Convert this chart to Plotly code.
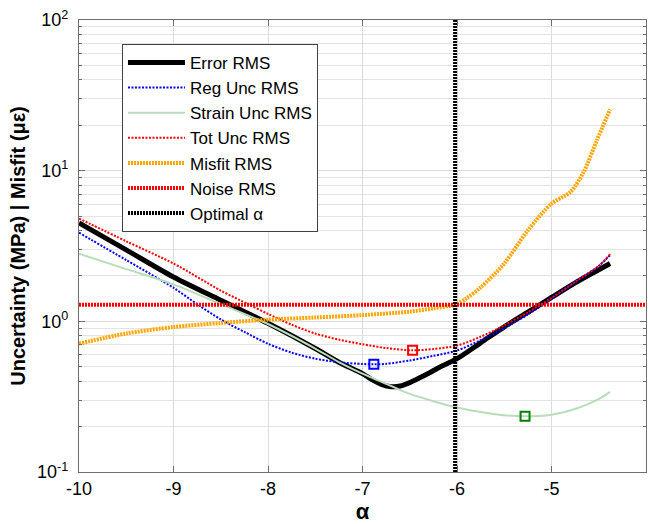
import plotly.graph_objects as go

# Regularisation parameter (log10 alpha) sample points for each curve
x_err = [-10, -9.5, -9, -8.5, -8, -7.5, -7.25, -7, -6.9, -6.8, -6.7, -6.6, -6.5, -6.4, -6.3, -6.2, -6.0, -5.75, -5.5, -5.25, -5.0, -4.75, -4.5, -4.38]
y_err = [4.5, 2.98, 1.97, 1.38, 0.97, 0.66, 0.535, 0.45, 0.41, 0.382, 0.368, 0.372, 0.392, 0.42, 0.452, 0.49, 0.565, 0.72, 0.92, 1.15, 1.44, 1.8, 2.2, 2.42]

x_reg = [-10, -9.5, -9, -8.75, -8.5, -8.25, -8, -7.75, -7.5, -7.25, -7, -6.88, -6.75, -6.5, -6.25, -6.0, -5.75, -5.5, -5.25, -5.0, -4.75, -4.5, -4.38]
y_reg = [3.88, 2.55, 1.67, 1.3, 1.03, 0.85, 0.71, 0.62, 0.565, 0.535, 0.521, 0.518, 0.522, 0.55, 0.59, 0.64, 0.75, 0.9, 1.11, 1.41, 1.82, 2.33, 2.75]

x_strain = [-10, -9.5, -9, -8.5, -8, -7.5, -7.25, -7, -6.67, -6.5, -6.25, -6.0, -5.75, -5.5, -5.28, -5.0, -4.75, -4.5, -4.38]
y_strain = [2.81, 2.22, 1.76, 1.3, 0.96, 0.66, 0.537, 0.45, 0.366, 0.33, 0.295, 0.268, 0.25, 0.238, 0.234, 0.24, 0.262, 0.305, 0.34]

x_tot = [-10, -9.5, -9, -8.5, -8.2, -8, -7.75, -7.5, -7.25, -7, -6.75, -6.47, -6.25, -6.0, -5.75, -5.5, -5.25, -5.0, -4.75, -4.5, -4.38]
y_tot = [4.81, 3.4, 2.42, 1.6, 1.29, 1.12, 0.95, 0.83, 0.756, 0.705, 0.665, 0.642, 0.655, 0.69, 0.79, 0.94, 1.15, 1.43, 1.83, 2.33, 2.79]

x_misfit = [-10, -9.5, -9, -8.5, -8, -7.5, -7, -6.5, -6.25, -6.02, -5.9, -5.75, -5.5, -5.25, -5.0, -4.8, -4.66, -4.52, -4.38]
y_misfit = [0.711, 0.83, 0.917, 0.975, 1.026, 1.06, 1.1, 1.16, 1.22, 1.29, 1.42, 1.68, 2.42, 4.02, 6.04, 7.22, 9.8, 15.9, 25.5]

noise_rms = 1.29
alpha_opt = -6.02

# Minima of the uncertainty curves
reg_min = (-6.88, 0.518)
tot_min = (-6.47, 0.642)
strain_min = (-5.28, 0.234)

x_tickvals = [-10, -9, -8, -7, -6, -5, -4]
x_ticktext = ["-10", "-9", "-8", "-7", "-6", "-5", "-4"]
y_tickvals = [0.1, 1, 10, 100]
y_ticktext = ["10<sup>-1</sup>", "10<sup>0</sup>", "10<sup>1</sup>", "10<sup>2</sup>"]
y_minor = [m * 10.0 ** e for e in (-1, 0, 1) for m in range(2, 10)]

FONT = "Arial, Liberation Sans, sans-serif"
thick_dash = "2px,1px"
thin_dash = "2px,1.5px"

fig = go.Figure()

fig.add_trace(go.Scatter(x=x_err, y=y_err, mode="lines", name="Error RMS",
                         line=dict(color="#000000", width=5, shape="spline", smoothing=0.8)))
fig.add_trace(go.Scatter(x=x_reg, y=y_reg, mode="lines", name="Reg Unc RMS",
                         line=dict(color="#0000ff", width=2, dash=thin_dash, shape="spline", smoothing=0.8)))
fig.add_trace(go.Scatter(x=x_strain, y=y_strain, mode="lines", name="Strain Unc RMS",
                         line=dict(color="#b8ddb8", width=2, shape="spline", smoothing=0.8)))
fig.add_trace(go.Scatter(x=x_tot, y=y_tot, mode="lines", name="Tot Unc RMS",
                         line=dict(color="#ff0000", width=2, dash=thin_dash, shape="spline", smoothing=0.8)))
fig.add_trace(go.Scatter(x=x_misfit, y=y_misfit, mode="lines", name="Misfit RMS",
                         line=dict(color="#ffa500", width=4, dash=thick_dash, shape="spline", smoothing=0.8)))
fig.add_trace(go.Scatter(x=[-10, -4], y=[noise_rms, noise_rms], mode="lines", name="Noise RMS",
                         line=dict(color="#ff0000", width=4, dash=thick_dash)))
fig.add_trace(go.Scatter(x=[alpha_opt, alpha_opt], y=[0.1, 100], mode="lines", name="Optimal \u03b1",
                         line=dict(color="#000000", width=4, dash=thick_dash)))

# Square markers at the minimum of each uncertainty curve
for pt, col in ((reg_min, "#0000ff"), (tot_min, "#ff0000"), (strain_min, "#008000")):
    fig.add_trace(go.Scatter(x=[pt[0]], y=[pt[1]], mode="markers", showlegend=False,
                             marker=dict(symbol="square-open", size=9, color=col,
                                         line=dict(color=col, width=2))))

axis_common = dict(showline=True, linecolor="#6e6e6e", linewidth=1.3, mirror="ticks",
                   ticks="inside", ticklen=6, tickcolor="#6e6e6e",
                   showgrid=True, gridcolor="#dcdcdc", gridwidth=1, zeroline=False,
                   tickfont=dict(family=FONT, size=18, color="#000000"))

fig.update_xaxes(range=[-10, -4], tickvals=x_tickvals, ticktext=x_ticktext,
                 title=dict(text="\u03b1", font=dict(family=FONT, size=22, color="#000000", weight="bold"),
                            standoff=8),
                 **axis_common)
fig.update_yaxes(type="log", range=[-1, 2], tickvals=y_tickvals, ticktext=y_ticktext,
                 ticklabelstandoff=6,
                 title=dict(text="Uncertainty (MPa) | Misfit (\u03bc\u03b5)",
                            font=dict(family=FONT, size=20, color="#000000", weight="bold"),
                            standoff=6),
                 minor=dict(tickvals=y_minor, ticks="inside", ticklen=3, tickcolor="#6e6e6e",
                            showgrid=True, gridcolor="#e3e3e3", gridwidth=1),
                 **axis_common)

fig.update_layout(
    width=648, height=524,
    margin=dict(l=79, r=2, t=20, b=52),
    paper_bgcolor="#ffffff", plot_bgcolor="#ffffff",
    font=dict(family=FONT, color="#000000"),
    legend=dict(x=0.0758, y=0.947, xanchor="left", yanchor="top",
                bgcolor="#ffffff", bordercolor="#404040", borderwidth=1,
                font=dict(family=FONT, size=17, color="#000000"),
                itemwidth=57, tracegroupgap=0),
)

fig.write_html("out.html")
